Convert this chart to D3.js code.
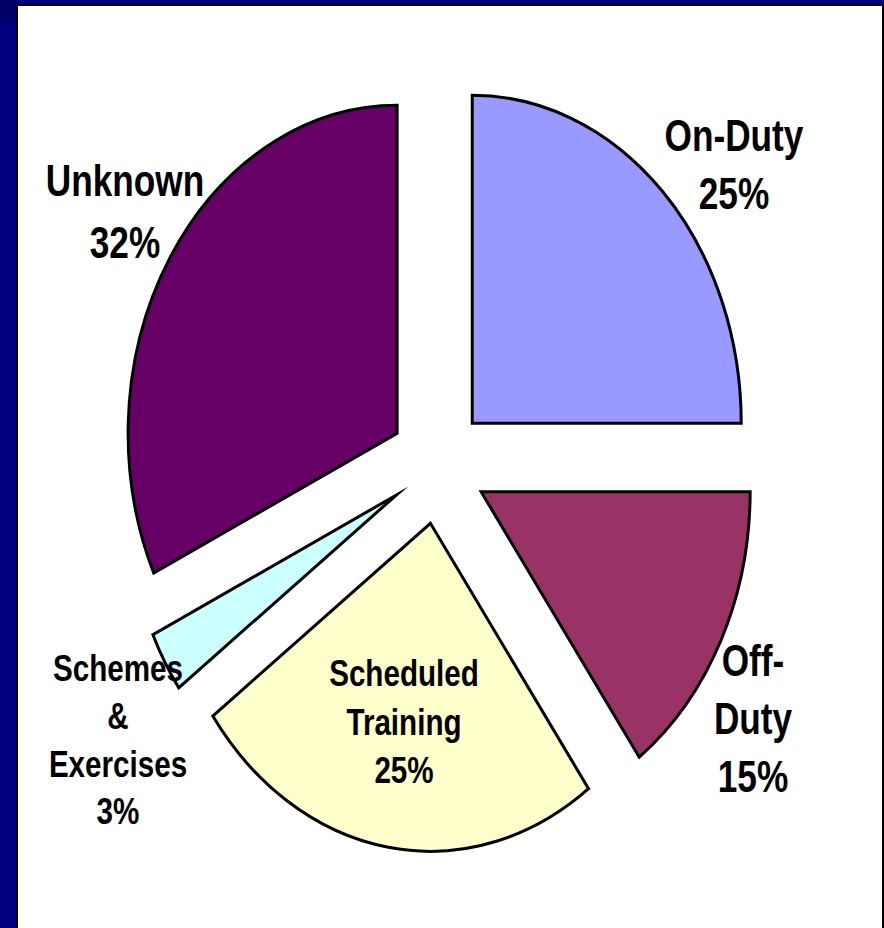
<!DOCTYPE html>
<html>
<head>
<meta charset="utf-8">
<script src="https://cdn.jsdelivr.net/npm/d3@7"></script>
<style>
  html, body { margin: 0; padding: 0; background: #000080; }
  svg { display: block; }
</style>
</head>
<body>
<svg id="chart" width="884" height="928"></svg>
<script>
// Share of incidents by activity
const categories = ["On-Duty", "Off-Duty", "Scheduled Training", "Schemes & Exercises", "Unknown"];
const values = [25, 15, 25, 3, 32];
const nameLines = [["On-Duty"], ["Off-", "Duty"], ["Scheduled", "Training"], ["Schemes", "&", "Exercises"], ["Unknown"]];
const colors = ["#9999FF", "#993366", "#FFFFCC", "#CCFFFF", "#660066"];

// Layout
const W = 884, H = 928;
const cx = 438, cy = 465;        // pie centre
const rx = 269, ry = 328;        // the pie is drawn as a vertically stretched ellipse
const explode = 0.18;            // every slice pulled out by this fraction of the radius
const stretch = ry / rx;
const textScaleX = 0.8;

// label anchors: [x of line centres, y of first line centre, font size, line height]
const labelLayout = [
  [734, 135, 44, 58],
  [753, 660, 44, 58],
  [404, 673, 37, 48.5],
  [118, 668, 37, 47.7],
  [125, 180, 44, 62]
];

const svg = d3.select("#chart");

// slide frame
svg.append("rect").attr("x", 0).attr("y", 0).attr("width", W).attr("height", H).attr("fill", "#000080");
svg.append("rect").attr("x", 0).attr("y", 0).attr("width", 16).attr("height", 23).attr("fill", "#00006b");
svg.append("rect").attr("x", 16).attr("y", 4).attr("width", W - 16).attr("height", H).attr("fill", "#000000");
svg.append("rect").attr("x", 18).attr("y", 6).attr("width", W - 20).attr("height", H).attr("fill", "#ffffff");

const pie = d3.pie().sort(null).value(d => d).startAngle(0).endAngle(2 * Math.PI);
const arcs = pie(values);
const arc = d3.arc().innerRadius(0).outerRadius(rx);

const slices = svg.append("g").attr("class", "slices");
slices.selectAll("path")
  .data(arcs)
  .join("path")
  .attr("d", arc)
  .attr("transform", d => {
    const mid = (d.startAngle + d.endAngle) / 2;
    const ox = explode * rx * Math.sin(mid);
    const oy = -explode * rx * Math.cos(mid);
    return `translate(${cx},${cy}) scale(1,${stretch}) translate(${ox},${oy})`;
  })
  .attr("fill", (d, i) => colors[i])
  .attr("stroke", "#000")
  .attr("stroke-width", 3)
  .attr("stroke-linejoin", "miter")
  .attr("stroke-miterlimit", 12)
  .attr("vector-effect", "non-scaling-stroke");

// data labels: category name followed by its percentage
const labels = svg.append("g").attr("class", "labels")
  .attr("font-family", "'Liberation Sans', Arial, Helvetica, sans-serif")
  .attr("font-weight", "bold")
  .attr("fill", "#000");

arcs.forEach((d, i) => {
  const [lx, ly, fs, lh] = labelLayout[i];
  const lines = nameLines[i].concat([`${values[i]}%`]);
  lines.forEach((t, j) => {
    const yCenter = ly + j * lh;
    labels.append("text")
      .attr("transform", `translate(${lx},${yCenter + fs * 0.36}) scale(${textScaleX},1)`)
      .attr("text-anchor", "middle")
      .attr("font-size", fs)
      .text(t);
  });
});
</script>
</body>
</html>
